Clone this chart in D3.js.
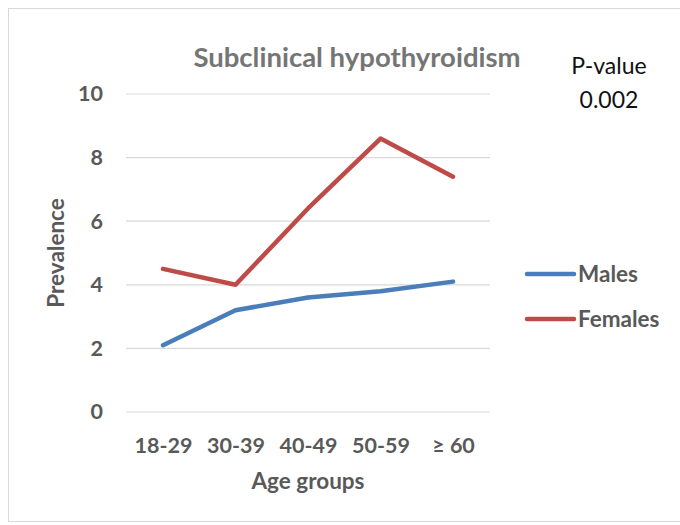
<!DOCTYPE html>
<html><head><meta charset="utf-8">
<script src="https://cdn.jsdelivr.net/npm/d3@7"></script>
<style>body{margin:0;background:#fff}svg{display:block}</style>
</head><body>
<svg id="c" width="680" height="525"></svg>
<script>
const categories = ["18-29","30-39","40-49","50-59","\u2265 60"];
const males = [2.1, 3.2, 3.6, 3.8, 4.1];
const females = [4.5, 4.0, 6.4, 8.6, 7.4];
const yTicks = [0,2,4,6,8,10];
const seriesNames = ["Males","Females"];
const seriesColors = ["#4A7EBB","#BE4B48"];

const svg = d3.select("#c");
const font = "Lato, 'Open Sans', sans-serif";
svg.append("rect").attr("x",8.5).attr("y",8.5).attr("width",690).attr("height",513)
  .attr("fill","#fff").attr("stroke","#d9d9d9").attr("stroke-width",1);

const x = d3.scalePoint().domain(categories).range([163,453]);
const y = d3.scaleLinear().domain([0,10]).range([412,94]);
const gx0 = 126, gx1 = 490;

const grid = svg.append("g");
grid.selectAll("line").data(yTicks).join("line")
  .attr("x1",gx0).attr("x2",gx1).attr("y1",d=>y(d)).attr("y2",d=>y(d))
  .attr("stroke","#d9d9d9").attr("stroke-width",1.2);

const ya = svg.append("g").attr("transform","translate(126,0)")
  .call(d3.axisLeft(y).tickValues(yTicks).tickSize(0).tickPadding(23));
ya.select(".domain").remove();
ya.selectAll("text").attr("font-family",font).attr("font-weight","bold").attr("font-size",21.5).attr("fill","#595959");

const xa = svg.append("g").attr("transform","translate(0,412)")
  .call(d3.axisBottom(x).tickSize(0).tickPadding(0));
xa.select(".domain").remove();
xa.selectAll("text").attr("dy",null).attr("y",41).attr("font-family",font).attr("font-weight","bold").attr("font-size",21.5).attr("fill","#595959");

const line = d3.line().x((d,i)=>x(categories[i])).y(d=>y(d));
[males,females].forEach((s,k)=>{
  svg.append("path").datum(s).attr("d",line).attr("fill","none")
    .attr("stroke",seriesColors[k]).attr("stroke-width",4.5)
    .attr("stroke-linecap","round").attr("stroke-linejoin","round");
});

svg.append("text").attr("x",357).attr("y",67).attr("text-anchor","middle")
  .attr("font-family",font).attr("font-weight","bold").attr("font-size",27.5).attr("fill","#757575")
  .text("Subclinical hypothyroidism");
svg.append("text").attr("x",609).attr("y",74).attr("text-anchor","middle")
  .attr("font-family",font).attr("font-size",23).attr("fill","#111").text("P-value");
svg.append("text").attr("x",609).attr("y",108).attr("text-anchor","middle")
  .attr("font-family",font).attr("font-size",23).attr("fill","#111").text("0.002");

svg.append("text").attr("x",308).attr("y",489).attr("text-anchor","middle")
  .attr("font-family",font).attr("font-weight","bold").attr("font-size",22.5).attr("fill","#595959")
  .text("Age groups");
svg.append("text").attr("transform","translate(64,253) rotate(-90)").attr("text-anchor","middle")
  .attr("font-family",font).attr("font-weight","bold").attr("font-size",22.5).attr("fill","#595959")
  .text("Prevalence");

const lg = svg.append("g");
seriesNames.forEach((n,k)=>{
  const yy = 274 + k*45;
  lg.append("line").attr("x1",527).attr("x2",574).attr("y1",yy).attr("y2",yy)
    .attr("stroke",seriesColors[k]).attr("stroke-width",4.5).attr("stroke-linecap","round");
  lg.append("text").attr("x",578).attr("y",yy+8).attr("font-family",font).attr("font-weight","bold")
    .attr("font-size",22.5).attr("fill","#595959").text(n);
});
</script>
</body></html>
